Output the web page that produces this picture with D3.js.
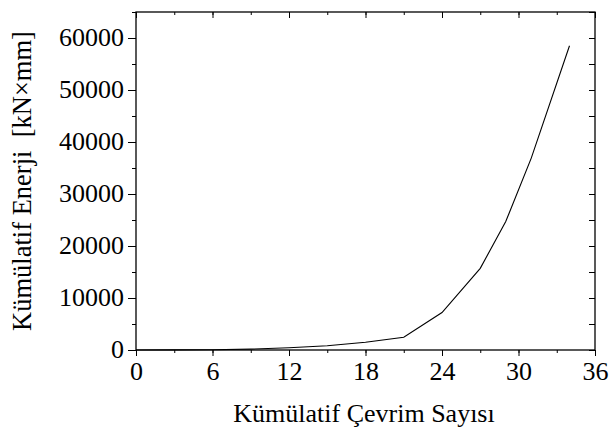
<!DOCTYPE html>
<html><head><meta charset="utf-8">
<script src="https://cdn.jsdelivr.net/npm/d3@7"></script>
<style>body{margin:0;background:#fff}svg{display:block}svg text{font-family:'Liberation Serif','Times New Roman',serif;fill:#000}</style>
</head><body><svg id="c" width="610" height="435"></svg>
<script>
const cycles = [0, 3, 6, 9, 12, 15, 18, 21, 24, 27, 29, 31, 34];
const energy = [0, 20, 60, 160, 420, 820, 1500, 2440, 7200, 15700, 24700, 36900, 58500];
const xTicks = [0, 6, 12, 18, 24, 30, 36];
const yTicks = [0, 10000, 20000, 30000, 40000, 50000, 60000];
const xLabel = "Kümülatif Çevrim Sayısı";
const yLabel = "Kümülatif Enerji  [kN×mm]";

const svg = d3.select("#c");
const m = {l:136, r:595, t:12, b:350};
const x = d3.scaleLinear().domain([0,36]).range([m.l, m.r]);
const y = d3.scaleLinear().domain([0,65000]).range([m.b, m.t]);
const font = "'Liberation Serif','Times New Roman',serif";
const fs = 26;

const xMinor = d3.range(0, 37, 3);
const yMinor = d3.range(0, 65001, 5000);

function styleAxis(g){
  g.attr("font-family", null).attr("font-size", null);
  g.select(".domain").remove();
  g.selectAll("line").attr("stroke","#000").attr("stroke-width",1);
}
function styleText(g){
  g.selectAll("text").style("font-family",font).style("font-size",fs+"px").style("fill","#000");
}
// bottom
svg.append("g").attr("transform",`translate(0,${m.b})`)
  .call(d3.axisBottom(x).tickValues(xMinor).tickSize(3).tickFormat(""))
  .call(styleAxis);
svg.append("g").attr("transform",`translate(0,${m.b})`)
  .call(d3.axisBottom(x).tickValues(xTicks).tickSize(6).tickFormat(d3.format("d")).tickPadding(6))
  .call(styleAxis).call(styleText);
// top
svg.append("g").attr("transform",`translate(0,${m.t})`)
  .call(d3.axisBottom(x).tickValues(xMinor).tickSize(3).tickFormat(""))
  .call(styleAxis);
svg.append("g").attr("transform",`translate(0,${m.t})`)
  .call(d3.axisBottom(x).tickValues(xTicks).tickSize(6).tickFormat(""))
  .call(styleAxis);
// left
svg.append("g").attr("transform",`translate(${m.l},0)`)
  .call(d3.axisLeft(y).tickValues(yMinor).tickSize(4).tickFormat(""))
  .call(styleAxis);
svg.append("g").attr("transform",`translate(${m.l},0)`)
  .call(d3.axisLeft(y).tickValues(yTicks).tickSize(8).tickFormat(d3.format("d")).tickPadding(4))
  .call(styleAxis).call(styleText)
  .call(g=>g.selectAll("text").attr("dy","0.3em"));
// right
svg.append("g").attr("transform",`translate(${m.r},0)`)
  .call(d3.axisRight(y).tickValues(yMinor).tickSize(-6).tickFormat(""))
  .call(styleAxis);

// frame
svg.append("rect").attr("x",m.l).attr("y",m.t).attr("width",m.r-m.l).attr("height",m.b-m.t)
  .attr("fill","none").attr("stroke","#000").attr("stroke-width",1.3);

// line
const line = d3.line().x((d,i)=>x(cycles[i])).y(d=>y(d));
svg.append("path").datum(energy).attr("d",line).attr("fill","none").attr("stroke","#000").attr("stroke-width",1.1);

// labels
svg.append("text").attr("x",364).attr("y",422).attr("text-anchor","middle")
  .style("font-size",fs+"px").text(xLabel);
svg.append("text").attr("transform",`translate(31,181) rotate(-90)`).attr("text-anchor","middle")
  .style("font-size","26.5px").style("white-space","pre").text(yLabel);
</script></body></html>
